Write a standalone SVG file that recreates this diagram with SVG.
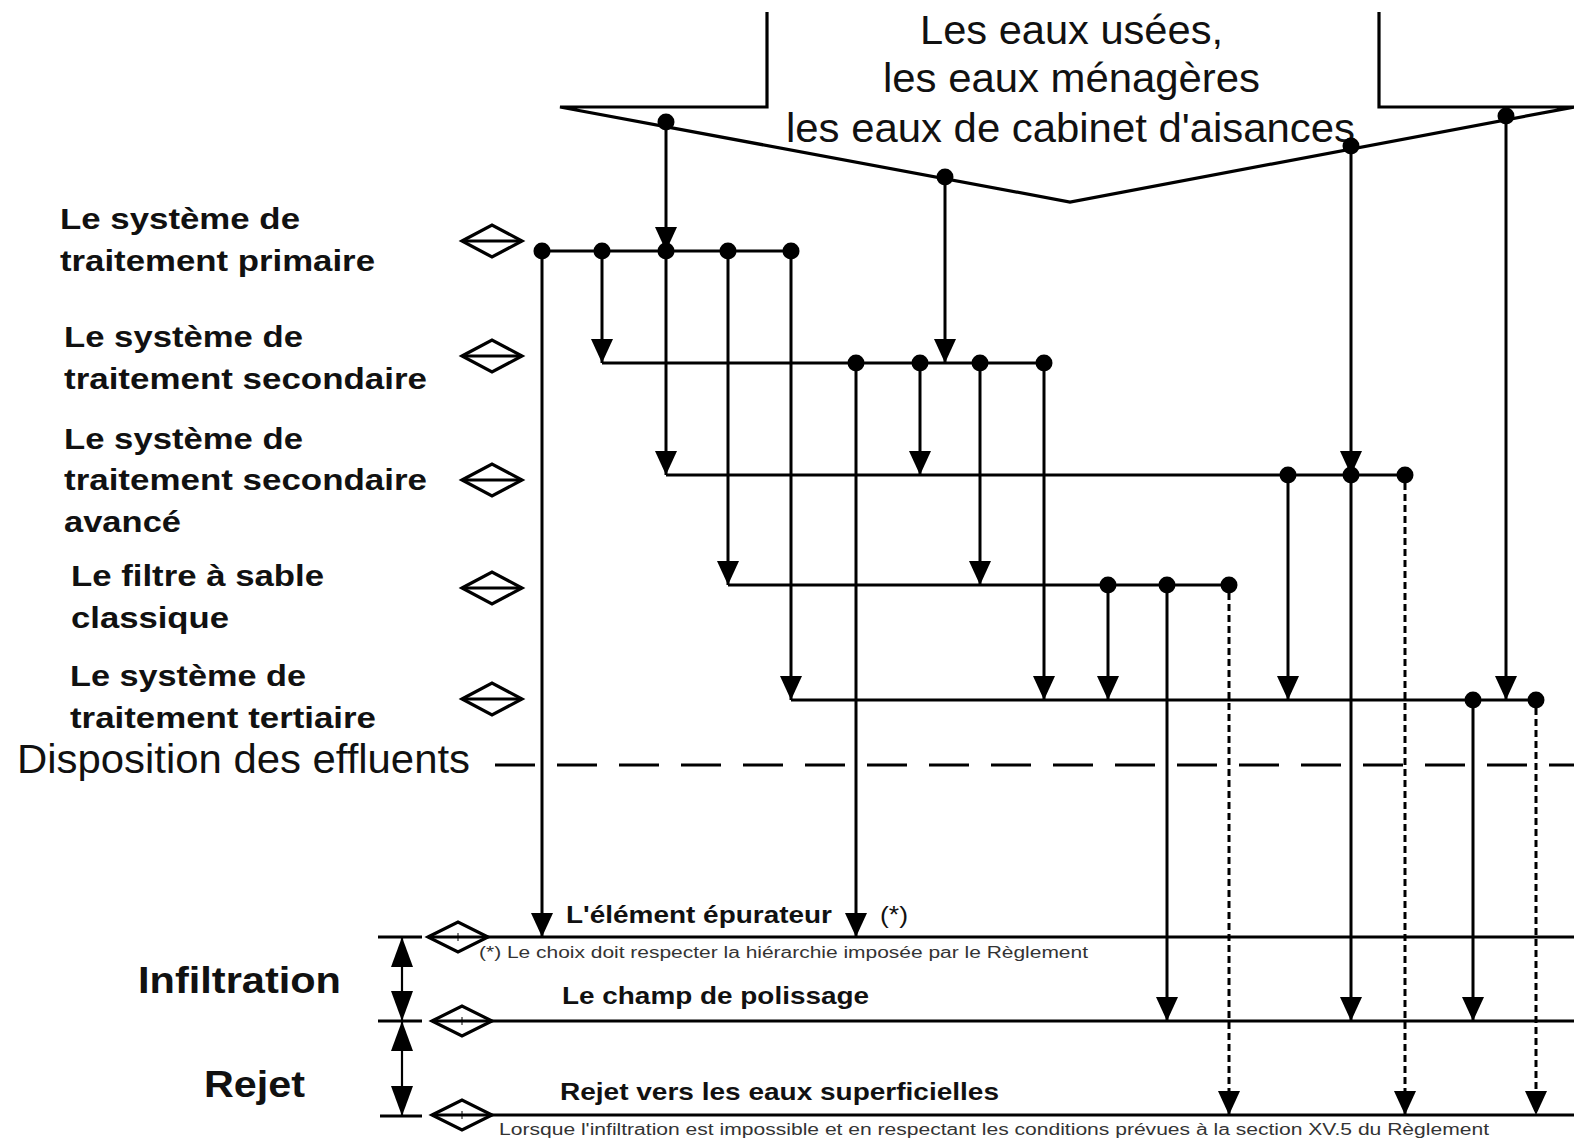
<svg xmlns="http://www.w3.org/2000/svg" width="1574" height="1143" viewBox="0 0 1574 1143">
<style>
.ln{stroke:#000;stroke-width:3;fill:none}
.thk{stroke:#000;stroke-width:3.2;fill:none}
.ar{stroke:#000;stroke-width:3;fill:none;marker-end:url(#ah)}
.da{stroke:#000;stroke-width:3;fill:none;stroke-dasharray:7 4;marker-end:url(#ah)}
.dot{fill:#000}
.dia{stroke:#000;stroke-width:3.2;fill:#fff}
.lab{font-family:"Liberation Sans",Arial,sans-serif;font-weight:bold;font-size:29px;fill:#111}
.top{font-family:"Liberation Sans",Arial,sans-serif;font-size:40px;fill:#111}
.bt{font-family:"Liberation Sans",Arial,sans-serif;font-weight:bold;font-size:24px;fill:#111}
.sm{font-family:"Liberation Sans",Arial,sans-serif;font-size:16px;fill:#333}
.big{font-family:"Liberation Sans",Arial,sans-serif;font-weight:bold;font-size:37px;fill:#111}
</style>
<defs>
<marker id="ah" viewBox="0 0 24 22" refX="24" refY="11" markerWidth="24" markerHeight="22" markerUnits="userSpaceOnUse" orient="auto">
<path d="M0,0 L24,11 L0,22 z" fill="#000"/>
</marker>
<marker id="dh" viewBox="0 0 30 22" refX="30" refY="11" markerWidth="30" markerHeight="22" markerUnits="userSpaceOnUse" orient="auto-start-reverse">
<path d="M0,0 L30,11 L0,22 z" fill="#000"/>
</marker>
</defs>
<rect width="1574" height="1143" fill="#fff"/>

<g id="source">
<path class="thk" d="M767,12 V107 H560 L1070,202 L1574,107 H1379 V12"/>
<text class="top" x="920" y="44" textLength="303" lengthAdjust="spacingAndGlyphs">Les eaux usées,</text>
<text class="top" x="883" y="92" textLength="377" lengthAdjust="spacingAndGlyphs">les eaux ménagères</text>
<text class="top" x="786" y="142" textLength="569" lengthAdjust="spacingAndGlyphs">les eaux de cabinet d'aisances</text>
<circle class="dot" cx="666" cy="122" r="8.5"/>
<circle class="dot" cx="945" cy="177" r="8.5"/>
<circle class="dot" cx="1351" cy="146" r="8.5"/>
<circle class="dot" cx="1506" cy="116" r="8.5"/>
</g>

<g id="primaire">
<text class="lab" x="60" y="229" textLength="240" lengthAdjust="spacingAndGlyphs">Le système de</text>
<text class="lab" x="60" y="271" textLength="315" lengthAdjust="spacingAndGlyphs">traitement primaire</text>
<polygon class="dia" points="462,241 492,225 522,241 492,257"/>
<line class="ln" x1="462" y1="241" x2="522" y2="241"/>
<line class="ln" x1="542" y1="251" x2="791" y2="251"/>
<circle class="dot" cx="542" cy="251" r="8.5"/><circle class="dot" cx="602" cy="251" r="8.5"/><circle class="dot" cx="666" cy="251" r="8.5"/><circle class="dot" cx="728" cy="251" r="8.5"/><circle class="dot" cx="791" cy="251" r="8.5"/>
</g>

<g id="secondaire">
<text class="lab" x="64" y="347" textLength="239" lengthAdjust="spacingAndGlyphs">Le système de</text>
<text class="lab" x="64" y="389" textLength="363" lengthAdjust="spacingAndGlyphs">traitement secondaire</text>
<polygon class="dia" points="462,356 492,340 522,356 492,372"/>
<line class="ln" x1="462" y1="356" x2="522" y2="356"/>
<line class="ln" x1="602" y1="363" x2="1044" y2="363"/>
<circle class="dot" cx="856" cy="363" r="8.5"/><circle class="dot" cx="920" cy="363" r="8.5"/><circle class="dot" cx="980" cy="363" r="8.5"/><circle class="dot" cx="1044" cy="363" r="8.5"/>
</g>

<g id="secondaire-avance">
<text class="lab" x="64" y="449" textLength="239" lengthAdjust="spacingAndGlyphs">Le système de</text>
<text class="lab" x="64" y="490" textLength="363" lengthAdjust="spacingAndGlyphs">traitement secondaire</text>
<text class="lab" x="64" y="532" textLength="117" lengthAdjust="spacingAndGlyphs">avancé</text>
<polygon class="dia" points="462,480 492,464 522,480 492,496"/>
<line class="ln" x1="462" y1="480" x2="522" y2="480"/>
<line class="ln" x1="666" y1="475" x2="1405" y2="475"/>
<circle class="dot" cx="1288" cy="475" r="8.5"/><circle class="dot" cx="1351" cy="475" r="8.5"/><circle class="dot" cx="1405" cy="475" r="8.5"/>
</g>

<g id="filtre-sable">
<text class="lab" x="71" y="586" textLength="253" lengthAdjust="spacingAndGlyphs">Le filtre à sable</text>
<text class="lab" x="71" y="628" textLength="158" lengthAdjust="spacingAndGlyphs">classique</text>
<polygon class="dia" points="462,588 492,572 522,588 492,604"/>
<line class="ln" x1="462" y1="588" x2="522" y2="588"/>
<line class="ln" x1="728" y1="585" x2="1229" y2="585"/>
<circle class="dot" cx="1108" cy="585" r="8.5"/><circle class="dot" cx="1167" cy="585" r="8.5"/><circle class="dot" cx="1229" cy="585" r="8.5"/>
</g>

<g id="tertiaire">
<text class="lab" x="70" y="686" textLength="236" lengthAdjust="spacingAndGlyphs">Le système de</text>
<text class="lab" x="70" y="728" textLength="306" lengthAdjust="spacingAndGlyphs">traitement tertiaire</text>
<polygon class="dia" points="462,699 492,683 522,699 492,715"/>
<line class="ln" x1="462" y1="699" x2="522" y2="699"/>
<line class="ln" x1="791" y1="700" x2="1536" y2="700"/>
<circle class="dot" cx="1473" cy="700" r="8.5"/><circle class="dot" cx="1536" cy="700" r="8.5"/>
</g>

<g id="disposition">
<text class="top" x="17" y="773" textLength="453" lengthAdjust="spacingAndGlyphs">Disposition des effluents</text>
<line x1="495" y1="765" x2="1574" y2="765" stroke="#000" stroke-width="3" stroke-dasharray="40 22"/>
</g>

<g id="infiltration">
<text class="big" x="138" y="993" textLength="203" lengthAdjust="spacingAndGlyphs">Infiltration</text>
<line class="thk" x1="378" y1="937" x2="422" y2="937"/>
<line class="thk" x1="428" y1="937" x2="1574" y2="937"/>
<polygon class="dia" points="428,937 458,922 488,937 458,952"/>
<line class="ln" x1="428" y1="937" x2="488" y2="937"/>
<line x1="458" y1="933" x2="458" y2="941" stroke="#000" stroke-width="1"/>
<text class="bt" x="566" y="923" textLength="266" lengthAdjust="spacingAndGlyphs">L'élément épurateur</text>
<text class="sm" x="880" y="923" textLength="28" lengthAdjust="spacingAndGlyphs" style="font-size:24px;fill:#111">(*)</text>
<text class="sm" x="479" y="958" textLength="609" lengthAdjust="spacingAndGlyphs">(*) Le choix doit respecter la hiérarchie imposée par le Règlement</text>
</g>

<g id="polissage">
<line class="thk" x1="378" y1="1021" x2="422" y2="1021"/>
<line class="thk" x1="432" y1="1021" x2="1574" y2="1021"/>
<polygon class="dia" points="432,1021 462,1006 492,1021 462,1036"/>
<line class="ln" x1="432" y1="1021" x2="492" y2="1021"/>
<line x1="462" y1="1017" x2="462" y2="1025" stroke="#000" stroke-width="1"/>
<text class="bt" x="562" y="1004" textLength="307" lengthAdjust="spacingAndGlyphs">Le champ de polissage</text>
</g>

<g id="rejet">
<text class="big" x="204" y="1097" textLength="101" lengthAdjust="spacingAndGlyphs">Rejet</text>
<line class="thk" x1="380" y1="1116" x2="422" y2="1116"/>
<line class="thk" x1="432" y1="1115" x2="1574" y2="1115"/>
<polygon class="dia" points="432,1115 462,1100 492,1115 462,1130"/>
<line class="ln" x1="432" y1="1115" x2="492" y2="1115"/>
<line x1="462" y1="1111" x2="462" y2="1119" stroke="#000" stroke-width="1"/>
<text class="bt" x="560" y="1100" textLength="439" lengthAdjust="spacingAndGlyphs">Rejet vers les eaux superficielles</text>
<text class="sm" x="499" y="1135" textLength="990" lengthAdjust="spacingAndGlyphs">Lorsque l'infiltration est impossible et en respectant les conditions prévues à la section XV.5 du Règlement</text>
</g>

<g id="connectors">
<line class="ar" x1="666" y1="122" x2="666" y2="251"/>
<line class="ar" x1="945" y1="177" x2="945" y2="363"/>
<line class="ar" x1="1351" y1="146" x2="1351" y2="475"/>
<line class="ar" x1="1506" y1="116" x2="1506" y2="700"/>

<line class="ar" x1="542" y1="251" x2="542" y2="937"/>
<line class="ar" x1="602" y1="251" x2="602" y2="363"/>
<line class="ar" x1="666" y1="251" x2="666" y2="475"/>
<line class="ar" x1="728" y1="251" x2="728" y2="585"/>
<line class="ar" x1="791" y1="251" x2="791" y2="700"/>

<line class="ar" x1="856" y1="363" x2="856" y2="937"/>
<line class="ar" x1="920" y1="363" x2="920" y2="475"/>
<line class="ar" x1="980" y1="363" x2="980" y2="585"/>
<line class="ar" x1="1044" y1="363" x2="1044" y2="700"/>

<line class="ar" x1="1288" y1="475" x2="1288" y2="700"/>
<line class="ar" x1="1351" y1="475" x2="1351" y2="1021"/>
<line class="da" x1="1405" y1="483" x2="1405" y2="1115"/>

<line class="ar" x1="1108" y1="585" x2="1108" y2="700"/>
<line class="ar" x1="1167" y1="585" x2="1167" y2="1021"/>
<line class="da" x1="1229" y1="593" x2="1229" y2="1115"/>

<line class="ar" x1="1473" y1="700" x2="1473" y2="1021"/>
<line class="da" x1="1536" y1="708" x2="1536" y2="1115"/>

<line x1="402" y1="937" x2="402" y2="1021" stroke="#000" stroke-width="2.2" marker-start="url(#dh)" marker-end="url(#dh)"/>
<line x1="402" y1="1021" x2="402" y2="1116" stroke="#000" stroke-width="2.2" marker-start="url(#dh)" marker-end="url(#dh)"/>
</g>
</svg>
